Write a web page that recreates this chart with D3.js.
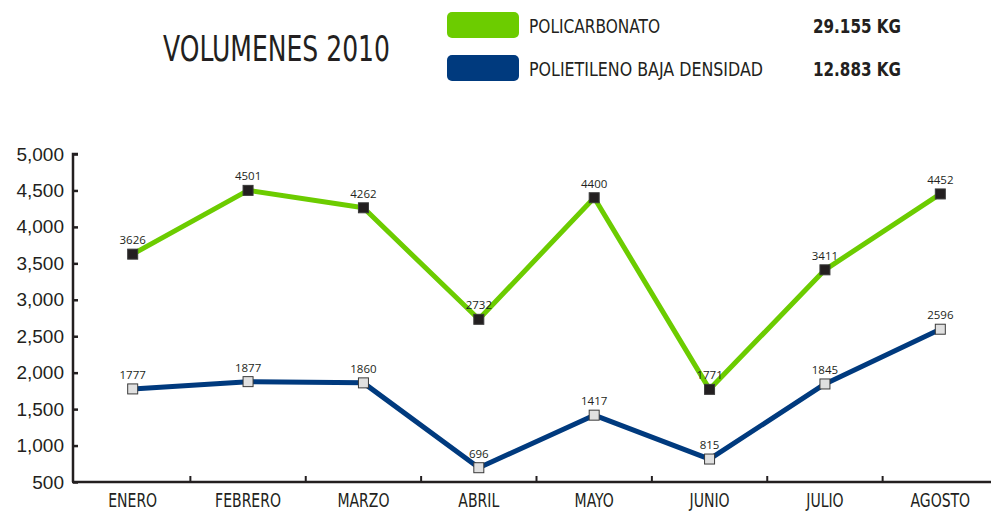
<!DOCTYPE html>
<html>
<head>
<meta charset="utf-8">
<script src="https://cdn.jsdelivr.net/npm/d3@7"></script>
<style>
  body { margin: 0; background: #fff; }
  svg { display: block; }
  .cond { font-family: "DejaVu Sans Condensed", "DejaVu Sans", sans-serif; font-stretch: condensed; }
</style>
</head>
<body>
<svg width="991" height="511"></svg>
<script>
// datos
var meses = ["ENERO", "FEBRERO", "MARZO", "ABRIL", "MAYO", "JUNIO", "JULIO", "AGOSTO"];
var policarbonato = [3626, 4501, 4262, 2732, 4400, 1771, 3411, 4452];
var polietileno = [1777, 1877, 1860, 696, 1417, 815, 1845, 2596];
var yTicks = [500, 1000, 1500, 2000, 2500, 3000, 3500, 4000, 4500, 5000];
var leyenda = [
  {nombre: "POLICARBONATO", total: "29.155 KG", color: "#6ccc00"},
  {nombre: "POLIETILENO BAJA DENSIDAD", total: "12.883 KG", color: "#003a7e"}
];

var svg = d3.select("svg");

var x = d3.scaleBand().domain(meses).range([75, 998]);
var y = d3.scaleLinear().domain([500, 5000]).range([482, 154]);

// estrecha un texto hasta un ancho dado
function ancho(sel, w) {
  sel.attr("textLength", w).attr("lengthAdjust", "spacingAndGlyphs");
}

// titulo
svg.append("text")
    .attr("class", "cond")
    .attr("x", 163).attr("y", 61)
    .attr("font-size", 35)
    .attr("fill", "#231f20")
    .text("VOLUMENES 2010")
    .call(ancho, 227);

// leyenda
var ley = svg.selectAll(".ley").data(leyenda).enter().append("g")
    .attr("class", "ley")
    .attr("transform", function(d, i) { return "translate(0," + (i * 43) + ")"; });
ley.append("rect")
    .attr("x", 447).attr("y", 12).attr("width", 72).attr("height", 26)
    .attr("rx", 5).attr("fill", function(d) { return d.color; });
ley.append("text")
    .attr("class", "cond")
    .attr("x", 529).attr("y", 33)
    .attr("font-size", 20)
    .attr("fill", "#231f20")
    .text(function(d) { return d.nombre; })
    .attr("textLength", function(d, i) { return i ? 234 : 131; })
    .attr("lengthAdjust", "spacingAndGlyphs");
ley.append("text")
    .attr("class", "cond")
    .attr("x", 813).attr("y", 33)
    .attr("font-size", 20).attr("font-weight", "bold")
    .attr("fill", "#231f20")
    .text(function(d) { return d.total; })
    .call(ancho, 88);

// ejes
var ejeY = svg.append("g")
    .attr("transform", "translate(73,0)")
    .call(d3.axisRight(y).tickValues(yTicks).tickSize(5).tickFormat(d3.format(",")));
ejeY.select(".domain").attr("d", "M5,154H0V482").attr("stroke", "#231f20").attr("stroke-width", 2.5);
ejeY.selectAll(".tick line").attr("stroke", "#231f20").attr("stroke-width", 2.5);
ejeY.selectAll(".tick text")
    .attr("x", -9).attr("text-anchor", "end")
    .attr("font-family", "Liberation Sans, Arial, sans-serif")
    .attr("font-size", 19).attr("fill", "#231f20");

var ejeX = svg.append("g").attr("transform", "translate(0,482)");
ejeX.append("line")
    .attr("x1", 72).attr("x2", 991)
    .attr("stroke", "#231f20").attr("stroke-width", 2.5);
ejeX.selectAll(".sep").data(meses.slice(1)).enter().append("line")
    .attr("x1", function(d) { return x(d); }).attr("x2", function(d) { return x(d); })
    .attr("y1", 0).attr("y2", -6)
    .attr("stroke", "#231f20").attr("stroke-width", 2);
ejeX.selectAll(".mes").data(meses).enter().append("text")
    .attr("class", "cond")
    .attr("x", function(d) { return x(d) + x.bandwidth() / 2; })
    .attr("y", 25)
    .attr("text-anchor", "middle")
    .attr("font-size", 19).attr("fill", "#231f20")
    .text(function(d) { return d; })
    .each(function() {
      var w = this.getComputedTextLength();
      d3.select(this).call(ancho, w * 0.82);
    });

// series
function cx(d, i) { return x(meses[i]) + x.bandwidth() / 2; }
var linea = d3.line().x(cx).y(function(d) { return y(d); });

function serie(datos, color, relleno) {
  svg.append("path")
      .datum(datos)
      .attr("fill", "none")
      .attr("stroke", color)
      .attr("stroke-width", 5)
      .attr("stroke-linejoin", "round")
      .attr("d", linea);
  svg.selectAll(null).data(datos).enter().append("rect")
      .attr("x", function(d, i) { return cx(d, i) - 5; })
      .attr("y", function(d) { return y(d) - 5; })
      .attr("width", 10).attr("height", 10)
      .attr("fill", relleno)
      .attr("stroke", "#3a3a3a").attr("stroke-width", 1);
  svg.selectAll(null).data(datos).enter().append("text")
      .attr("x", cx)
      .attr("y", function(d) { return y(d) - 10; })
      .attr("text-anchor", "middle")
      .attr("font-family", "Open Sans, Liberation Sans, sans-serif")
      .attr("font-size", 11.5).attr("fill", "#231f20")
      .text(function(d) { return d; });
}
serie(policarbonato, "#6ccc00", "#231f20");
serie(polietileno, "#003a7e", "#e0e0e0");
</script>
</body>
</html>
